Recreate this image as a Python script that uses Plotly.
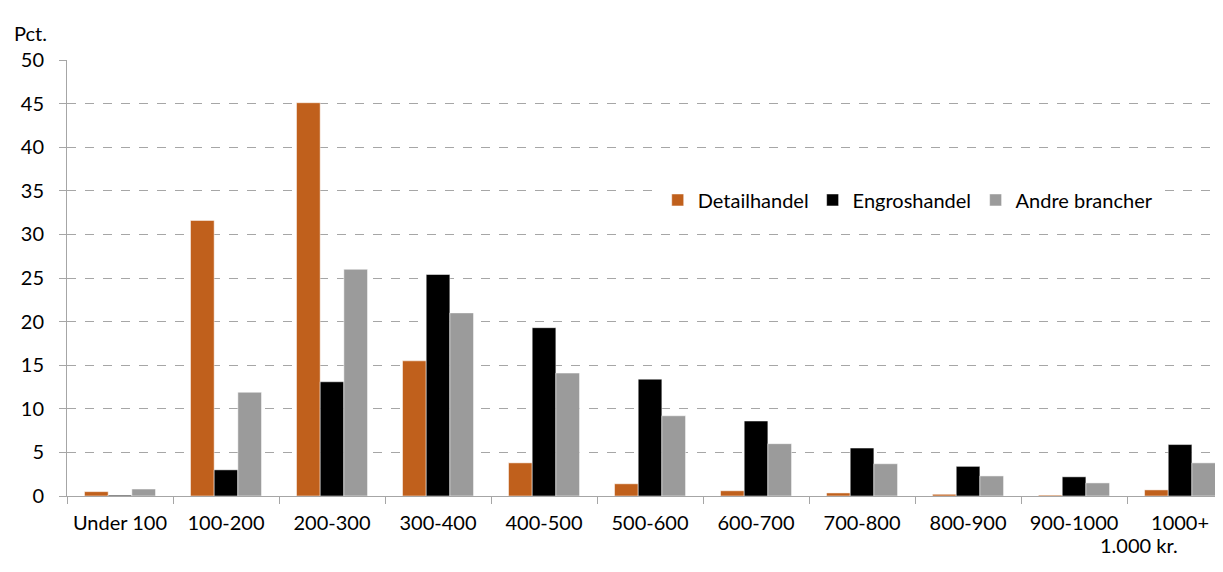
import plotly.graph_objects as go

# Lønintervaller (1.000 kr.)
KATEGORIER = [
    "Under 100", "100-200", "200-300", "300-400", "400-500", "500-600",
    "600-700", "700-800", "800-900", "900-1000", "1000+",
]

DETAILHANDEL = [0.5, 31.6, 45.1, 15.5, 3.8, 1.4, 0.6, 0.35, 0.2, 0.1, 0.7]
ENGROSHANDEL = [0.1, 3.0, 13.1, 25.4, 19.3, 13.4, 8.6, 5.5, 3.4, 2.2, 5.9]
ANDRE = [0.8, 11.9, 26.0, 21.0, 14.1, 9.2, 6.0, 3.7, 2.3, 1.5, 3.8]

Y_TICKS = [0, 5, 10, 15, 20, 25, 30, 35, 40, 45, 50]

FONT = "Lato"
AXIS_COLOR = "#A6A6A6"

fig = go.Figure()

# Hver serie får sin egen legende, så afstanden mellem dem kan styres.
serier = [
    ("Detailhandel", DETAILHANDEL, "#C0601C", "legend", 0.511),
    ("Engroshandel", ENGROSHANDEL, "#000000", "legend2", 0.645),
    ("Andre brancher", ANDRE, "#9B9B9B", "legend3", 0.786),
]

legender = {}

for navn, vaerdier, farve, legende, x in serier:
    fig.add_trace(
        go.Bar(
            x=KATEGORIER,
            y=vaerdier,
            name=navn,
            marker_color=farve,
            marker_line_color="rgba(255,255,255,0.5)",
            marker_line_width=1,
            legend=legende,
            showlegend=True,
        )
    )
    legender[legende] = dict(
        orientation="h",
        x=x,
        y=0.679,
        xanchor="left",
        yanchor="middle",
        bgcolor="#FFFFFF",
        font_size=20,
        itemwidth=30,
    )

fig.update_xaxes(
    range=[-0.5, 10.405],
    tickson="boundaries",
    ticks="outside",
    ticklen=7,
    tickcolor=AXIS_COLOR,
    showline=True,
    linecolor=AXIS_COLOR,
    linewidth=1,
    showgrid=False,
    tickfont_size=20,
    ticklabelstandoff=9,
    automargin=False,
)

fig.update_yaxes(
    range=[0, 50],
    tickvals=Y_TICKS,
    ticks="outside",
    ticklen=7,
    tickcolor=AXIS_COLOR,
    showline=True,
    linecolor=AXIS_COLOR,
    linewidth=1,
    showgrid=True,
    gridcolor=AXIS_COLOR,
    griddash="dash",
    gridwidth=1,
    zeroline=False,
    tickfont_size=20,
    ticklabelstandoff=11,
    automargin=False,
)

# Siden har 8 px margin i browseren, så figuren gøres tilsvarende mindre.
fig.update_layout(
    width=1215,
    height=564,
    showlegend=True,
    barmode="group",
    bargap=0.33,
    bargroupgap=0,
    font_family=FONT,
    font_color="#000000",
    font_size=20,
    plot_bgcolor="#FFFFFF",
    paper_bgcolor="#FFFFFF",
    margin=dict(l=59, r=0, t=52, b=76),
    **legender,
)

fig.add_annotation(
    x=-0.0476,
    y=1.062,
    xref="paper",
    yref="paper",
    xanchor="left",
    yanchor="middle",
    showarrow=False,
    text="Pct.",
    font_size=20,
)

fig.add_annotation(
    x=0.963,
    y=-0.112,
    xref="paper",
    yref="paper",
    xanchor="right",
    yanchor="middle",
    showarrow=False,
    text="1.000 kr.",
    font_size=20,
)

fig.write_html("out.html")
